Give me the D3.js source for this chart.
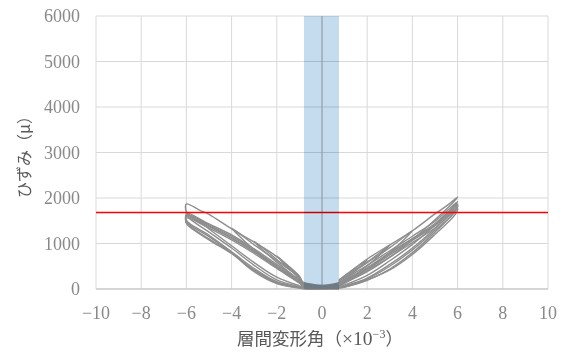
<!DOCTYPE html>
<html><head><meta charset="utf-8">
<script src="https://cdn.jsdelivr.net/npm/d3@7"></script>
<style>
body{margin:0;background:#fff;}
svg{display:block;}
</style></head>
<body>
<svg id="chart" width="574" height="352"></svg>
<script>
// ---- data ----
const xTicks = [-10,-8,-6,-4,-2,0,2,4,6,8,10];
const yTicks = [0,1000,2000,3000,4000,5000,6000];
const limitStrain = 1700;              // red horizontal line
const bandRange = [-0.8, 0.75];         // shaded vertical band (drift ×10^-3)

// hysteresis loops: [drift angle ×10^-3, strain μ]
const loopA1 = [[-0.8,60],[0.75,120],[1,200],[1.3,280],[1.1,190],[0.75,90],[-0.8,50],[-1.1,230],[-0.9,120],[-0.8,20],[0.75,30]];
const loopA2 = [[0.75,170],[1,290],[1.5,470],[2,640],[1.8,540],[1.2,290],[0.75,140],[-0.8,110],[-1,280],[-1.5,510],[-2,730],[-1.8,620],[-1.2,330],[-0.8,130],[0.75,60]];
const loopA3 = [[0.75,150],[1,270],[2,590],[3,960],[2.8,860],[2,510],[1,160],[0.75,100],[-0.8,80],[-1,260],[-2,650],[-3,1050],[-2.8,940],[-2,590],[-1,200],[-0.8,140],[0.75,40]];
const loopA4 = [[0.75,180],[1,250],[2,580],[3,910],[4,1280],[3.8,1170],[3,800],[2,440],[1,130],[0.75,80],[-0.8,130],[-1,250],[-2,620],[-3,970],[-4,1340],[-3.8,1230],[-3,860],[-2,480],[-1,150],[-0.8,90],[0.75,20]];
const loopB1 = [[0.75,200],[1,290],[2,660],[3,970],[4,1280],[5,1650],[5.6,1860],[6,2020],[5.8,1900],[5,1520],[4,1080],[3,700],[2,380],[1,130],[0.75,70],[-0.8,120],[-1,270],[-2,710],[-3,1030],[-4,1320],[-5,1640],[-5.4,1730],[-6,1870],[-6,1700],[-5,1320],[-4,950],[-3,580],[-2,260],[-1,70],[-0.8,40],[0.75,10]];
const loopB2 = [[0.75,130],[1,220],[2,520],[3,840],[4,1160],[5,1490],[6,1920],[5.7,1740],[5,1400],[4,980],[3,620],[2,300],[1,90],[0.75,50],[-0.8,100],[-1,180],[-2,540],[-3,880],[-4,1190],[-5,1430],[-6,1680],[-5.9,1570],[-5,1250],[-4,900],[-3,520],[-2,200],[-1,50],[-0.8,30],[0.75,5]];
const loopB3 = [[0.75,110],[1,190],[2,470],[3,800],[4,1110],[5,1440],[6,1870],[5.8,1720],[5,1330],[4,900],[3,540],[2,240],[1,70],[0.75,40],[-0.8,70],[-1,160],[-2,510],[-3,850],[-4,1160],[-5,1410],[-6,1640],[-6,1510],[-5,1180],[-4,820],[-3,450],[-2,160],[-1,35],[-0.8,15],[0.75,0]];
const loopB4 = [[0.75,90],[1,160],[2,430],[3,750],[4,1070],[5,1390],[6,1820],[5.8,1660],[5,1250],[4,800],[3,440],[2,190],[1,45],[0.75,25],[-0.8,60],[-1,140],[-2,470],[-3,810],[-4,1110],[-5,1370],[-6,1590],[-6,1460],[-5,1100],[-4,790],[-3,400],[-2,130],[-1,25],[-0.8,10],[0.75,15]];
const loopB5 = [[0.75,120],[1,170],[2,450],[3,780],[4,1100],[5,1410],[6,1850],[5.9,1700],[5,1290],[4,860],[3,500],[2,220],[1,55],[0.75,35],[-0.8,90],[-1,150],[-2,490],[-3,830],[-4,1130],[-5,1390],[-6,1620],[-6,1480],[-5,1150],[-4,800],[-3,420],[-2,150],[-1,30],[-0.8,20],[0.75,50]];
const loopB6 = [[0.75,70],[1,150],[2,400],[3,700],[4,1020],[5,1340],[6,1760],[5.9,1640],[5,1200],[4,760],[3,420],[2,200],[1,40],[0.75,20],[-0.8,50],[-1,130],[-2,450],[-3,780],[-4,1080],[-5,1340],[-6,1560],[-6,1440],[-5,1080],[-4,780],[-3,380],[-2,120],[-1,20],[-0.8,5],[0.75,35]];
const loops = [loopA1, loopA2, loopA3, loopA4, loopB1, loopB2, loopB3, loopB4, loopB5, loopB6];

// ---- layout ----
const svg = d3.select("#chart");
const x = d3.scaleLinear().domain([-10,10]).range([96,548]);
const y = d3.scaleLinear().domain([0,6000]).range([289,16]);
const numFont = "'Liberation Serif','DejaVu Serif',serif";
const jpFont = "'Noto Sans CJK JP','Noto Sans CJK SC',sans-serif";

// gridlines
svg.append("g").selectAll("line").data(yTicks).join("line")
  .attr("x1", x(-10)).attr("x2", x(10))
  .attr("y1", d=>y(d)).attr("y2", d=>y(d))
  .attr("stroke", "#d9d9d9").attr("stroke-width", 1);
svg.append("g").selectAll("line").data(xTicks.filter(d=>d!==0)).join("line")
  .attr("x1", d=>x(d)).attr("x2", d=>x(d))
  .attr("y1", y(0)).attr("y2", y(6000))
  .attr("stroke", "#d9d9d9").attr("stroke-width", 1);

// axis lines
svg.append("line").attr("x1", x(-10)).attr("x2", x(10)).attr("y1", y(0)).attr("y2", y(0))
  .attr("stroke", "#bfbfbf").attr("stroke-width", 1);
svg.append("line").attr("x1", x(0)).attr("x2", x(0)).attr("y1", y(0)).attr("y2", y(6000))
  .attr("stroke", "#b8b8b8").attr("stroke-width", 1.2);

// loops
const line = d3.line().x(d=>x(d[0])).y(d=>y(d[1])).curve(d3.curveCatmullRom.alpha(0.5));
svg.append("g").selectAll("path").data(loops).join("path")
  .attr("d", line).attr("fill", "none")
  .attr("stroke", "#8e8e8e").attr("stroke-width", 1.4).attr("stroke-linejoin", "round");

// red limit line
svg.append("line").attr("x1", x(-10)).attr("x2", x(10))
  .attr("y1", Math.round(y(limitStrain)) + 0.5).attr("y2", Math.round(y(limitStrain)) + 0.5)
  .attr("stroke", "#ff0000").attr("stroke-width", 1.5);

// shaded band (multiply)
svg.append("rect").attr("x", x(bandRange[0])).attr("width", x(bandRange[1]) - x(bandRange[0]))
  .attr("y", y(6000)).attr("height", y(0) - y(6000))
  .attr("fill", "#c5dcef").style("mix-blend-mode", "multiply");

// tick labels
svg.append("g").selectAll("text").data(yTicks).join("text")
  .attr("x", 80).attr("y", d=>y(d)).attr("dy", "0.35em")
  .attr("text-anchor", "end").attr("font-family", numFont).attr("font-size", 18)
  .attr("fill", "#898989").text(d=>d);
svg.append("g").selectAll("text").data(xTicks).join("text")
  .attr("x", d=>x(d)).attr("y", 319)
  .attr("text-anchor", "middle").attr("font-family", numFont).attr("font-size", 18)
  .attr("fill", "#898989").text(d=> d<0 ? "\u2212"+Math.abs(d) : d);

// axis titles
const xt = svg.append("text").attr("x", 320).attr("y", 345).attr("text-anchor", "middle")
  .attr("fill", "#595959").attr("font-size", 17.5);
xt.append("tspan").attr("font-family", jpFont).text("層間変形角（");
xt.append("tspan").attr("font-family", numFont).attr("font-size", 19.5).text("×10");
xt.append("tspan").attr("font-family", numFont).attr("font-size", 12).attr("dy", -7).text("−3");
xt.append("tspan").attr("font-family", jpFont).attr("dy", 7).text("）");

svg.append("text").attr("transform", "translate(30,153) rotate(-90)")
  .attr("text-anchor", "middle").attr("font-family", jpFont).attr("font-size", 16)
  .attr("fill", "#595959").text("ひずみ（μ）");
</script>
</body></html>
